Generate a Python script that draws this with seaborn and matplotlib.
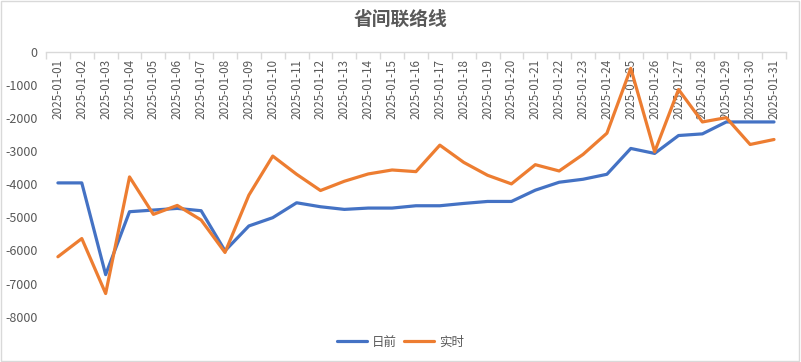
import matplotlib.pyplot as plt
import seaborn as sns
import pandas as pd
from matplotlib.patches import Rectangle
from matplotlib.ticker import FixedLocator

# Dates (x categories)
dates = [f"2025-01-{d:02d}" for d in range(1, 32)]

# 日前 (day-ahead)
day_ahead = [-3960, -3960, -6730, -4830, -4780, -4730, -4800, -6010, -5260, -5010,
             -4560, -4680, -4760, -4720, -4720, -4650, -4650, -4580, -4520, -4520,
             -4180, -3940, -3850, -3700, -2920, -3070, -2530, -2480, -2120, -2120,
             -2120]

# 实时 (real-time)
real_time = [-6190, -5640, -7300, -3780, -4910, -4640, -5080, -6060, -4330, -3150,
             -3700, -4190, -3910, -3690, -3570, -3620, -2820, -3340, -3730, -3990,
             -3410, -3600, -3100, -2460, -500, -3020, -1140, -2120, -1990, -2800,
             -2650]

series_names = ["日前", "实时"]
y_ticks = list(range(-8000, 1, 1000))

df = pd.DataFrame({"date": dates, "日前": day_ahead, "实时": real_time})
df_long = df.melt(id_vars="date", var_name="series", value_name="value")

sns.set_theme(style="white")
plt.rcParams['font.family'] = ['Noto Sans CJK SC', 'DejaVu Sans']

text_color = "#595959"

fig = plt.figure(figsize=(8.01, 3.62), dpi=100)
ax = fig.add_axes([0.0574, 0.1251, 0.9238, 0.732])

sns.lineplot(
    data=df_long, x="date", y="value", hue="series", hue_order=series_names,
    palette=["#4472C4", "#ED7D31"], linewidth=2.3, ax=ax, legend=True,
    sort=False
)

ax.set_xlim(-0.5, len(dates) - 0.5)
ax.set_ylim(-8000, 0)
ax.set_yticks(y_ticks)
ax.set_yticklabels([str(v) for v in y_ticks])
ax.set_xlabel("")
ax.set_ylabel("")

# category axis sits on y=0, labels hang below it
for side in ["top", "left", "right"]:
    ax.spines[side].set_visible(False)
ax.spines["bottom"].set_position(("data", 0))
ax.spines["bottom"].set_color("#D9D9D9")
ax.spines["bottom"].set_linewidth(1)

ax.set_xticks(range(len(dates)))
ax.set_xticklabels(dates, rotation=90, fontsize=8.4, color=text_color,
                   va="top", ha="center")
ax.xaxis.set_minor_locator(FixedLocator([i - 0.5 for i in range(len(dates) + 1)]))
ax.tick_params(axis="x", which="major", length=0, pad=5)
ax.tick_params(axis="x", which="minor", length=5, color="#D9D9D9", width=1,
               direction="out", bottom=True)
ax.tick_params(axis="y", length=0, labelsize=9, labelcolor=text_color, pad=6)

ax.set_title("")
fig.text(0.5, 0.948, "省间联络线", ha="center", va="center", fontsize=13.5,
         fontweight="bold", color=text_color)

handles, labels = ax.get_legend_handles_labels()
ax.legend_.remove()
fig.legend(handles, labels, loc="center", bbox_to_anchor=(0.5, 0.055), ncol=2,
           frameon=False, fontsize=9, handlelength=2.4, columnspacing=0.6,
           handletextpad=0.4, labelcolor=text_color)

# chart border
fig.patches.append(Rectangle((0.001, 0.002), 0.997, 0.995, transform=fig.transFigure,
                             fill=False, edgecolor="#D9D9D9", linewidth=1))

plt.savefig("out.png", dpi=100)
